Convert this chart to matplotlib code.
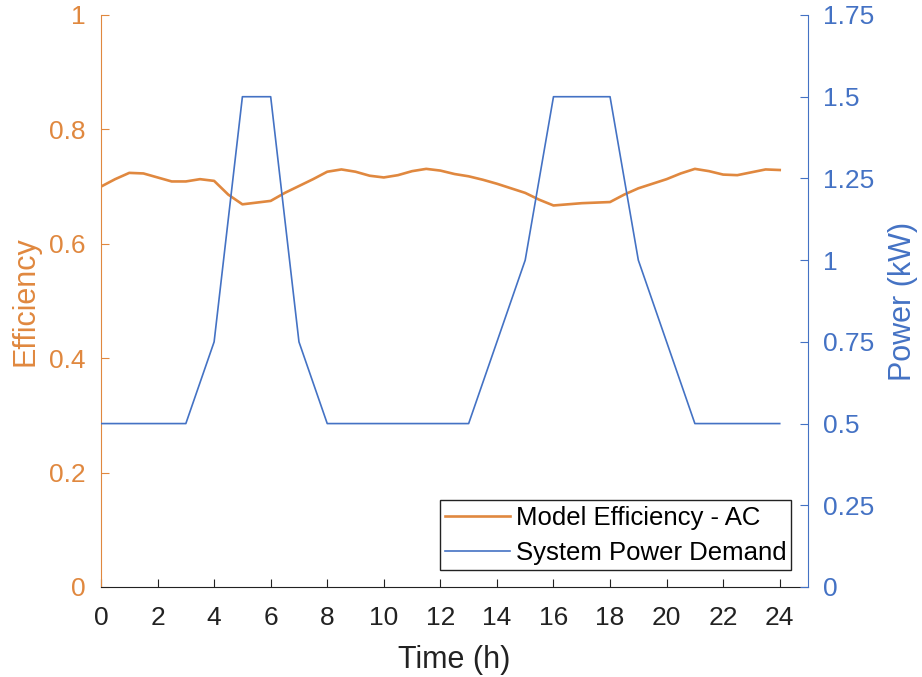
import numpy as np
import matplotlib
matplotlib.use("Agg")
import matplotlib.pyplot as plt
from matplotlib.ticker import FixedLocator

plt.rcParams['font.family'] = ['Liberation Sans', 'DejaVu Sans']

# Efficiency model, every half hour
eff_hours = np.arange(0, 24.5, 0.5)
efficiency = [0.700, 0.713, 0.724, 0.723, 0.716, 0.709, 0.709, 0.713, 0.710, 0.686,
              0.669, 0.672, 0.675, 0.689, 0.701, 0.713, 0.726, 0.730, 0.726, 0.719,
              0.716, 0.720, 0.727, 0.731, 0.728, 0.722, 0.718, 0.712, 0.705, 0.697,
              0.689, 0.677, 0.667, 0.669, 0.671, 0.672, 0.673, 0.686, 0.697, 0.705,
              0.713, 0.723, 0.731, 0.727, 0.721, 0.720, 0.725, 0.730, 0.729]

# System power demand, hourly
power_hours = np.arange(0, 25)
power = [0.5, 0.5, 0.5, 0.5, 0.75, 1.5, 1.5, 0.75, 0.5, 0.5, 0.5, 0.5, 0.5,
         0.5, 0.75, 1.0, 1.5, 1.5, 1.5, 1.0, 0.75, 0.5, 0.5, 0.5, 0.5]

x_ticks = list(range(0, 25, 2))
left_ticks = [0, 0.2, 0.4, 0.6, 0.8, 1.0]
left_labels = ['0', '0.2', '0.4', '0.6', '0.8', '1']
right_ticks = [0, 0.25, 0.5, 0.75, 1.0, 1.25, 1.5, 1.75]
right_labels = ['0', '0.25', '0.5', '0.75', '1', '1.25', '1.5', '1.75']

orange = '#E0883F'
blue = '#4472C4'

fig = plt.figure(figsize=(9.22, 6.77), dpi=100)
ax = fig.add_axes([101 / 922, 90 / 677, 707 / 922, 572 / 677])
ax2 = ax.twinx()

l1, = ax.plot(eff_hours, efficiency, color=orange, lw=1.9, label='Model Efficiency - AC')
l2, = ax2.plot(power_hours, power, color=blue, lw=1.2, label='System Power Demand')

ax.set_xlim(0, 25)
ax.set_ylim(0, 1)
ax2.set_ylim(0, 1.75)

ax.xaxis.set_major_locator(FixedLocator(x_ticks))
ax.set_xticklabels([str(t) for t in x_ticks])
ax.set_yticks(left_ticks)
ax.set_yticklabels(left_labels)
ax2.set_yticks(right_ticks)
ax2.set_yticklabels(right_labels)

for a in (ax, ax2):
    a.spines['top'].set_visible(False)
ax2.spines['left'].set_visible(False)
ax2.spines['bottom'].set_visible(False)
ax.spines['right'].set_visible(False)
ax.spines['left'].set_color(orange)
ax2.spines['right'].set_color(blue)
ax.spines['bottom'].set_color('#222222')

ax.tick_params(axis='x', direction='in', length=6, labelsize=19, colors='#222222', pad=14)
ax.tick_params(axis='y', direction='in', length=6, labelsize=19, colors=orange, pad=11)
ax2.tick_params(axis='y', direction='in', length=6, labelsize=19, colors=blue, pad=10.5)

ax.set_xlabel('Time (h)', fontsize=22, color='#222222', labelpad=10.5)
ax.set_ylabel('Efficiency', fontsize=22, color=orange, labelpad=6)
ax2.set_ylabel('Power (kW)', fontsize=22, color=blue, labelpad=10)

leg = ax2.legend(handles=[l1, l2], loc='lower right', fontsize=18.5, frameon=True,
                 fancybox=False, edgecolor='#222222', framealpha=1,
                 borderpad=0.2, handlelength=2.55, handletextpad=0.2, labelspacing=0.45,
                 borderaxespad=0.65)
leg.get_frame().set_linewidth(1.0)

fig.savefig('out.png', dpi=100)
